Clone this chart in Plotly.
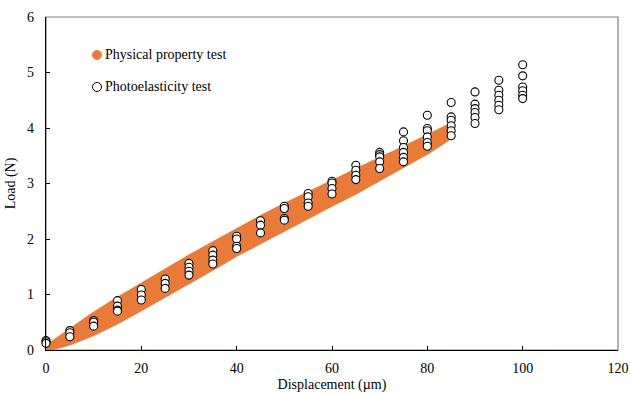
import plotly.graph_objects as go

# Physical property test: envelope of the load-displacement curves
band_x = [0, 5, 10, 15, 20, 25, 30, 35, 40, 45, 50, 55, 60, 65, 70, 75, 80, 85]
band_upper = [0.05, 0.36, 0.65, 0.92, 1.18, 1.44, 1.68, 1.92, 2.16, 2.39, 2.61, 2.82, 3.02, 3.22, 3.44, 3.64, 3.85, 4.06]
band_lower = [0.00, 0.12, 0.29, 0.50, 0.74, 0.98, 1.22, 1.47, 1.72, 1.95, 2.18, 2.40, 2.62, 2.84, 3.07, 3.32, 3.56, 3.84]

# Photoelasticity test: repeated measurements at each displacement step
photo_x = [0, 5, 10, 15, 20, 25, 30, 35, 40, 45, 50, 55, 60, 65, 70, 75, 80, 85, 90, 95, 100]
photo_loads = [
    [0.17, 0.15, 0.12],
    [0.35, 0.31, 0.24],
    [0.53, 0.50, 0.43],
    [0.89, 0.79, 0.72, 0.70],
    [1.09, 0.99, 0.90],
    [1.28, 1.20, 1.11],
    [1.56, 1.49, 1.42, 1.35],
    [1.79, 1.71, 1.62, 1.55],
    [2.05, 2.00, 1.87, 1.83],
    [2.33, 2.25, 2.11],
    [2.59, 2.55, 2.37, 2.34],
    [2.82, 2.76, 2.65, 2.59],
    [3.04, 3.01, 2.91, 2.81],
    [3.33, 3.24, 3.15, 3.07],
    [3.56, 3.52, 3.48, 3.39, 3.27],
    [3.93, 3.77, 3.65, 3.56, 3.47, 3.39],
    [4.23, 3.99, 3.95, 3.84, 3.74, 3.67],
    [4.46, 4.20, 4.14, 4.04, 3.95, 3.86],
    [4.65, 4.43, 4.35, 4.28, 4.19, 4.08],
    [4.86, 4.68, 4.59, 4.50, 4.41, 4.33],
    [5.14, 4.94, 4.74, 4.67, 4.59, 4.53],
]

x_ticks = [0, 20, 40, 60, 80, 100, 120]
y_ticks = [0, 1, 2, 3, 4, 5, 6]

ORANGE = "#E97B3A"
FONT = "Liberation Serif"
FSIZE = 14

fig = go.Figure()

# orange band as a closed polygon (upper edge forward, lower edge back)
fig.add_trace(go.Scatter(
    x=band_x + band_x[::-1],
    y=band_upper + band_lower[::-1],
    fill="toself",
    fillcolor=ORANGE,
    mode="lines",
    line=dict(color=ORANGE, width=4),
    name="Physical property test",
    showlegend=False,
    hoverinfo="skip",
    cliponaxis=False,
))

px_, py_ = [], []
for xv, loads in zip(photo_x, photo_loads):
    for v in loads:
        px_.append(xv)
        py_.append(v)

fig.add_trace(go.Scatter(
    x=px_, y=py_,
    mode="markers",
    marker=dict(symbol="circle", size=8, color="white",
                line=dict(color="black", width=1.1)),
    name="Photoelasticity test",
    showlegend=False,
    cliponaxis=False,
))

# hand-placed legend entries
legend_items = [
    ("Physical property test", ORANGE, ORANGE, 0.886),
    ("Photoelasticity test", "white", "black", 0.790),
]
shapes = [
    # grey frame on top and right
    dict(type="rect", xref="paper", yref="paper", x0=0, y0=0, x1=1, y1=1,
         line=dict(color="#7f7f7f", width=1.2), layer="below"),
]
annotations = []
for label, fill, edge, yy in legend_items:
    shapes.append(dict(type="circle", xref="paper", yref="paper",
                       x0=(97 - 4.5 - 46) / 572, x1=(97 + 4.5 - 46) / 572,
                       y0=yy - 4.5 / 333, y1=yy + 4.5 / 333,
                       fillcolor=fill, line=dict(color=edge, width=1)))
    annotations.append(dict(xref="paper", yref="paper",
                            x=(103 - 46) / 572, y=yy, text=label,
                            showarrow=False, xanchor="left", yanchor="middle",
                            font=dict(family=FONT, size=FSIZE, color="black")))

fig.update_layout(
    width=630, height=395,
    margin=dict(l=46, r=12, t=17, b=45),
    paper_bgcolor="white", plot_bgcolor="white",
    font=dict(family=FONT, size=FSIZE, color="black"),
    shapes=shapes,
    annotations=annotations,
    showlegend=False,
)

fig.update_xaxes(
    range=[0, 120], tickvals=x_ticks, ticks="inside", ticklen=4,
    tickcolor="black", showline=True, linecolor="black", linewidth=1.2,
    showgrid=False, zeroline=False, ticklabelstandoff=5, automargin=False,
    tickfont=dict(family=FONT, size=FSIZE),
    title=dict(text="Displacement (µm)", standoff=4,
               font=dict(family=FONT, size=FSIZE)),
)
fig.update_yaxes(
    range=[0, 6], tickvals=y_ticks, ticks="inside", ticklen=4,
    tickcolor="black", showline=True, linecolor="black", linewidth=1.2,
    showgrid=False, zeroline=False, ticklabelstandoff=8, automargin=False,
    tickfont=dict(family=FONT, size=FSIZE),
    title=dict(text="Load (N)", standoff=8,
               font=dict(family=FONT, size=FSIZE)),
)

fig.write_html("out.html")
